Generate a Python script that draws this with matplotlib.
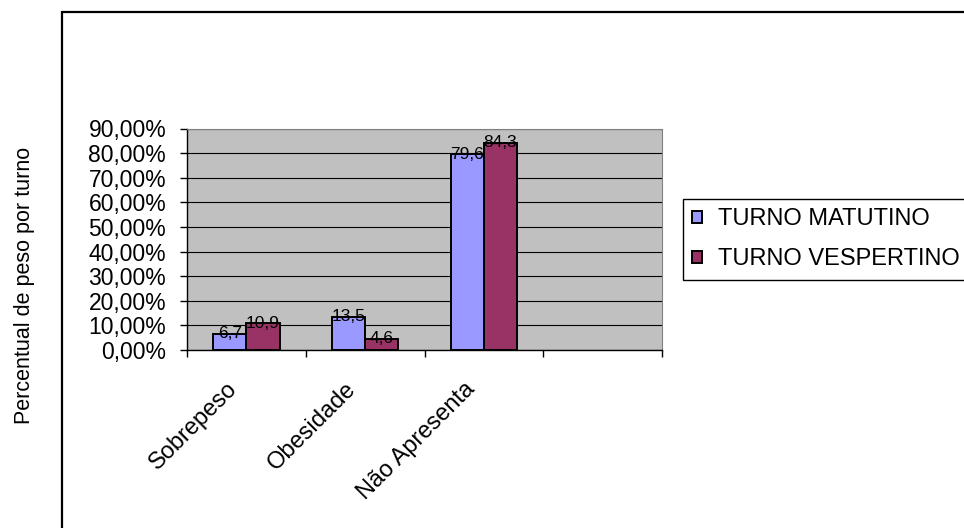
import matplotlib.pyplot as plt
from matplotlib.patches import Rectangle
from matplotlib.ticker import FuncFormatter
from matplotlib.transforms import ScaledTranslation
import numpy as np

# Categorias e percentuais por turno
categorias = ['Sobrepeso', 'Obesidade', 'Não Apresenta', '']
matutino = [6.7, 13.5, 79.6]
vespertino = [10.9, 4.6, 84.3]
series = ['TURNO MATUTINO', 'TURNO VESPERTINO']

plt.rcParams['font.family'] = ['Liberation Sans', 'DejaVu Sans']

W, H = 964, 528
fig = plt.figure(figsize=(W / 100, H / 100), dpi=100)
ax = fig.add_axes([187 / W, 1 - 350 / H, (662 - 187) / W, (350 - 128.5) / H])
ax.set_facecolor('#C0C0C0')

x = np.arange(len(matutino))
largura = 0.281
b1 = ax.bar(x - largura / 2, matutino, largura, color='#9999FF',
            edgecolor='black', linewidth=1.4, label=series[0], zorder=3)
b2 = ax.bar(x + largura / 2, vespertino, largura, color='#993366',
            edgecolor='black', linewidth=1.4, label=series[1], zorder=3)

# Rótulos de valor com vírgula decimal
for barras in (b1, b2):
    for b in barras:
        v = b.get_height()
        ax.text(b.get_x() + b.get_width() / 2, v, f'{v:.1f}'.replace('.', ','),
                ha='center', va='center', fontsize=12.5, zorder=4)

ax.set_xlim(-0.5, len(categorias) - 0.5)
ax.set_ylim(0, 90)
ax.set_yticks(np.arange(0, 91, 10))
ax.yaxis.set_major_formatter(FuncFormatter(lambda v, p: f'{v:.2f}%'.replace('.', ',')))
ax.tick_params(axis='y', labelsize=16.5, length=5, width=1, pad=10)
ax.grid(axis='y', color='black', linewidth=0.8, zorder=1)

# Divisões entre categorias e nomes girados
ax.set_xticks(np.arange(len(categorias) + 1) - 0.5)
ax.set_xticklabels([])
ax.tick_params(axis='x', length=5, width=1)
ax.set_xticks(np.arange(len(categorias)), minor=True)
ax.set_xticklabels(categorias, minor=True, rotation=45, ha='right',
                   rotation_mode='anchor', fontsize=17)
ax.tick_params(axis='x', which='minor', length=0, pad=20)
desloc = ScaledTranslation(-0.2, 0, fig.dpi_scale_trans)
for lbl in ax.get_xticklabels(minor=True):
    lbl.set_transform(lbl.get_transform() + desloc)

for s in ('top', 'right'):
    ax.spines[s].set_color('#808080')
for s in ('left', 'bottom'):
    ax.spines[s].set_color('black')
    ax.spines[s].set_linewidth(1)

fig.text(25 / W, 1 - 285 / H, 'Percentual de peso por turno', rotation=90,
         ha='center', va='center', fontsize=15.5)

leg = fig.legend(handles=[b1, b2], loc='upper left',
                 bbox_to_anchor=(683 / W, 1 - 199 / H), borderaxespad=0,
                 fontsize=17, handlelength=0.4, handleheight=0.4,
                 handletextpad=0.7, labelspacing=0.75, borderpad=0.4,
                 fancybox=False, framealpha=1)
leg.get_frame().set_edgecolor('black')
leg.get_frame().set_linewidth(1)

fig.patches.append(Rectangle((62 / W, -0.1), 1.2, 1.1 - 12 / H, transform=fig.transFigure,
                             fill=False, edgecolor='black', linewidth=1.6, zorder=0))

fig.savefig('out.png', dpi=100)
